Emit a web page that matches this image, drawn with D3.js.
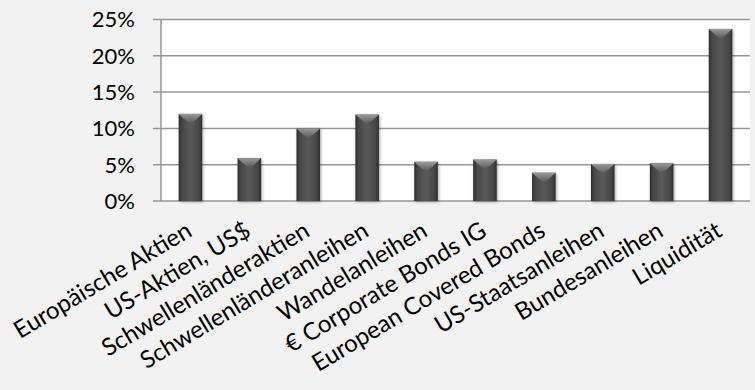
<!DOCTYPE html>
<html>
<head>
<meta charset="utf-8">
<script src="https://cdn.jsdelivr.net/npm/d3@7"></script>
<style>
  body { margin: 0; background: #f2f2f2; }
  text { font-family: Lato, "Open Sans", sans-serif; fill: #000; }
</style>
</head>
<body>
<svg id="chart" width="755" height="390"></svg>
<script>
// Categories and values (share of portfolio)
var categories = ["Europäische Aktien", "US-Aktien, US$", "Schwellenländeraktien",
  "Schwellenländeranleihen", "Wandelanleihen", "€ Corporate Bonds IG",
  "European Covered Bonds", "US-Staatsanleihen", "Bundesanleihen", "Liquidität"];
var values = [0.12, 0.059, 0.10, 0.119, 0.054, 0.057, 0.039, 0.051, 0.052, 0.237];
var yTicks = [0, 0.05, 0.10, 0.15, 0.20, 0.25];

var svg = d3.select("svg#chart");

// plot area
var plotLeft = 161, plotRight = 750, plotTop = 19.5, plotBottom = 201;

var x = d3.scaleBand()
  .domain(categories)
  .range([plotLeft, plotRight])
  .paddingInner(0.6)
  .paddingOuter(0.3);

var y = d3.scaleLinear()
  .domain([0, 0.25])
  .range([plotBottom, plotTop]);

// gradients for the bevelled bars
var defs = svg.append("defs");

var body = defs.append("linearGradient").attr("id", "barBody")
  .attr("x1", "0%").attr("x2", "100%").attr("y1", "0%").attr("y2", "0%");
body.append("stop").attr("offset", "0%").attr("stop-color", "#2e2e2e");
body.append("stop").attr("offset", "15%").attr("stop-color", "#474747");
body.append("stop").attr("offset", "50%").attr("stop-color", "#5a5a5a");
body.append("stop").attr("offset", "85%").attr("stop-color", "#474747");
body.append("stop").attr("offset", "100%").attr("stop-color", "#2e2e2e");

var cap = defs.append("linearGradient").attr("id", "barCap")
  .attr("x1", "0%").attr("x2", "0%").attr("y1", "0%").attr("y2", "100%");
cap.append("stop").attr("offset", "0%").attr("stop-color", "#9a9a9a");
cap.append("stop").attr("offset", "100%").attr("stop-color", "#5c5c5c");

var shadow = defs.append("filter").attr("id", "shadow")
  .attr("x", "-30%").attr("y", "-10%").attr("width", "160%").attr("height", "130%");
shadow.append("feDropShadow").attr("dx", 1).attr("dy", 1)
  .attr("stdDeviation", 1.5).attr("flood-color", "#000").attr("flood-opacity", 0.35);

// white plot background
svg.append("rect")
  .attr("x", plotLeft).attr("y", plotTop)
  .attr("width", plotRight - plotLeft).attr("height", plotBottom - plotTop)
  .attr("fill", "#fff");

// gridlines with little ticks on the left
svg.append("g").selectAll("line.grid")
  .data(yTicks)
  .enter().append("line")
  .attr("class", "grid")
  .attr("x1", plotLeft - 8)
  .attr("x2", plotRight)
  .attr("y1", d => y(d))
  .attr("y2", d => y(d))
  .attr("stroke", "#969696")
  .attr("stroke-width", 1.5);

// y axis line
svg.append("line")
  .attr("x1", plotLeft).attr("x2", plotLeft)
  .attr("y1", plotTop).attr("y2", plotBottom)
  .attr("stroke", "#969696")
  .attr("stroke-width", 1.5);

// y labels
svg.append("g").selectAll("text.ylab")
  .data(yTicks)
  .enter().append("text")
  .attr("class", "ylab")
  .attr("x", plotLeft - 26)
  .attr("y", d => y(d))
  .attr("dy", "0.36em")
  .attr("text-anchor", "end")
  .style("font-size", "22px")
  .text(d => d3.format(".0%")(d));

// bars
var bars = svg.append("g").selectAll("g.bar")
  .data(values)
  .enter().append("g")
  .attr("class", "bar")
  .attr("filter", "url(#shadow)");

bars.append("rect")
  .attr("x", (d, i) => x(categories[i]))
  .attr("y", d => y(d))
  .attr("width", x.bandwidth())
  .attr("height", d => plotBottom - y(d))
  .attr("fill", "url(#barBody)");

bars.append("path")
  .attr("d", (d, i) => {
    var x0 = x(categories[i]), w = x.bandwidth(), t = y(d);
    return "M" + x0 + "," + t + "L" + (x0 + w) + "," + t +
      "L" + (x0 + w * 0.72) + "," + (t + 6) + "L" + (x0 + w / 2) + "," + (t + 9) +
      "L" + (x0 + w * 0.28) + "," + (t + 6) + "Z";
  })
  .attr("fill", "url(#barCap)");

// category labels, rotated
svg.append("g").selectAll("text.xlab")
  .data(categories)
  .enter().append("text")
  .attr("class", "xlab")
  .attr("transform", d => "translate(" + (x(d) + x.bandwidth() / 2 + 3) + "," + 235 + ") rotate(-31)")
  .attr("text-anchor", "end")
  .style("font-size", "24px")
  .text(d => d);
</script>
</body>
</html>
